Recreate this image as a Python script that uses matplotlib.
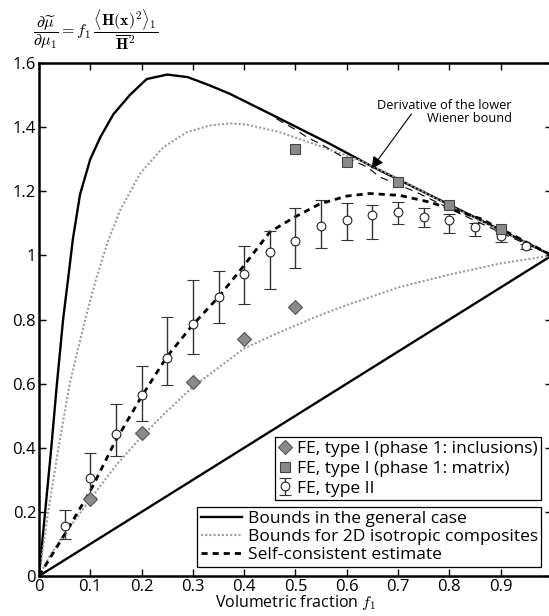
import matplotlib
matplotlib.use('Agg')
import matplotlib.pyplot as plt
from matplotlib.ticker import FuncFormatter

plt.rcParams['font.family'] = ['Open Sans', 'DejaVu Sans']
plt.rcParams['mathtext.fontset'] = 'cm'

# ---- data ----
# general-case bounds
f_gen_up = [0, 0.012, 0.024, 0.035, 0.047, 0.057, 0.066, 0.08, 0.10, 0.12, 0.145,
            0.177, 0.21, 0.25, 0.29, 0.333, 0.372, 0.47, 0.567, 0.652, 1.0]
v_gen_up = [0, 0.2, 0.4, 0.6, 0.8, 0.93, 1.05, 1.19, 1.30, 1.37, 1.44,
            1.50, 1.55, 1.564, 1.556, 1.53, 1.504, 1.426, 1.348, 1.275, 1.0]
f_gen_lo = [0, 1.0]
v_gen_lo = [0, 1.0]

# 2D isotropic bounds
f_iso_up = [0, 0.018, 0.038, 0.06, 0.09, 0.112, 0.135, 0.158, 0.197, 0.242, 0.288,
            0.333, 0.372, 0.405, 0.47, 0.535, 0.626, 0.7, 0.8, 0.9, 1.0]
v_iso_up = [0, 0.2, 0.4, 0.6, 0.8, 0.93, 1.047, 1.14, 1.255, 1.337, 1.384,
            1.405, 1.412, 1.408, 1.384, 1.348, 1.296, 1.24, 1.155, 1.078, 1.0]
f_iso_lo = [0, 0.02, 0.05, 0.1, 0.15, 0.2, 0.25, 0.3, 0.35, 0.4, 0.47, 0.55, 0.6,
            0.7, 0.8, 0.9, 1.0]
v_iso_lo = [0, 0.06, 0.13, 0.24, 0.345, 0.435, 0.515, 0.59, 0.65, 0.71, 0.761, 0.815,
            0.845, 0.9, 0.94, 0.975, 1.0]

# self-consistent estimate
f_sc = [0, 0.05, 0.1, 0.148, 0.2, 0.249, 0.299, 0.35, 0.398, 0.45, 0.499, 0.548,
        0.6, 0.645, 0.704, 0.762, 0.80, 0.86, 0.918, 1.0]
v_sc = [0, 0.13, 0.265, 0.418, 0.56, 0.683, 0.782, 0.87, 0.965, 1.073, 1.12, 1.161,
        1.185, 1.193, 1.187, 1.166, 1.146, 1.115, 1.068, 1.0]

# derivative of the lower Wiener bound
f_wl = [0.463, 0.496, 0.522, 0.554, 0.587, 0.606, 0.639, 0.665, 0.736, 0.821, 0.918, 1.0]
v_wl = [1.426, 1.396, 1.369, 1.343, 1.312, 1.30, 1.276, 1.244, 1.197, 1.13, 1.058, 1.0]

# FE results
f_inc = [0.1, 0.2, 0.3, 0.4, 0.5]
v_inc = [0.24, 0.445, 0.606, 0.738, 0.838]

f_mat = [0.5, 0.6, 0.7, 0.8, 0.9]
v_mat = [1.332, 1.291, 1.228, 1.156, 1.083]

f_t2 = [0.05, 0.1, 0.15, 0.2, 0.25, 0.3, 0.35, 0.4, 0.45, 0.5, 0.55, 0.6,
        0.65, 0.7, 0.75, 0.8, 0.85, 0.9, 0.95]
v_t2 = [0.155, 0.305, 0.442, 0.566, 0.681, 0.785, 0.87, 0.943, 1.01, 1.045, 1.093, 1.111,
        1.125, 1.135, 1.121, 1.109, 1.088, 1.062, 1.029]
lo_t2 = [0.115, 0.245, 0.375, 0.484, 0.595, 0.694, 0.79, 0.849, 0.895, 0.962, 1.024, 1.047,
         1.052, 1.097, 1.09, 1.071, 1.062, 1.041, 1.021]
hi_t2 = [0.205, 0.385, 0.535, 0.654, 0.808, 0.922, 0.951, 1.03, 1.075, 1.149, 1.174, 1.163,
         1.158, 1.166, 1.149, 1.13, 1.10, 1.076, 1.036]

x_ticks = [0, 0.1, 0.2, 0.3, 0.4, 0.5, 0.6, 0.7, 0.8, 0.9, 1.0]
x_tick_labels = ['0', '0.1', '0.2', '0.3', '0.4', '0.5', '0.6', '0.7', '0.8', '0.9', '']
y_ticks = [0, 0.2, 0.4, 0.6, 0.8, 1.0, 1.2, 1.4, 1.6]

# ---- figure ----
fig = plt.figure(figsize=(5.49, 6.16), dpi=100)
ax = fig.add_axes([0.0710, 0.0649, 0.9344, 0.8328])

gray_dot = '#9c9c9c'
l_gen, = ax.plot(f_gen_up, v_gen_up, color='k', lw=1.7)
ax.plot(f_gen_lo, v_gen_lo, color='k', lw=1.7)
l_iso, = ax.plot(f_iso_up, v_iso_up, color=gray_dot, lw=1.5, ls=(0, (1, 1)))
ax.plot(f_iso_lo, v_iso_lo, color=gray_dot, lw=1.5, ls=(0, (1, 1)))
ax.plot(f_wl, v_wl, color='k', lw=0.8, ls=(0, (7, 5)))
l_sc, = ax.plot(f_sc, v_sc, color='k', lw=2.0, ls=(0, (2.2, 1.8)))

yerr = [[v - l for v, l in zip(v_t2, lo_t2)], [h - v for v, h in zip(v_t2, hi_t2)]]
eb = ax.errorbar(f_t2, v_t2, yerr=yerr, fmt='o', mfc='white', mec='#222222',
                 mew=0.8, ms=6.3, ecolor='#333333', elinewidth=1.0, capsize=4.5,
                 capthick=1.0, zorder=4)
m_inc, = ax.plot(f_inc, v_inc, 'D', ms=6.8, mfc='#8a8a8a', mec='#555555', mew=0.8,
                 ls='none', zorder=5)
m_mat, = ax.plot(f_mat, v_mat, 's', ms=6.5, mfc='#8a8a8a', mec='#444444', mew=0.8,
                 ls='none', zorder=5)

ax.set_xlim(0, 1)
ax.set_ylim(0, 1.6)
ax.set_xticks(x_ticks)
ax.set_xticklabels(x_tick_labels)
ax.set_yticks(y_ticks)
ax.yaxis.set_major_formatter(FuncFormatter(lambda v, p: '%g' % v))
ax.tick_params(direction='in', length=5, width=1.0, top=True, right=True,
               labelsize=12, pad=2)
for s in ax.spines.values():
    s.set_linewidth(1.8)

ax.set_xlabel('Volumetric fraction $f_1$', fontsize=11.5, labelpad=-1)

fig.text(0.06, 0.950,
         r'$\dfrac{\partial\widetilde{\mu}}{\partial\mu_1} = f_1\,'
         r'\dfrac{\langle\mathbf{H}(\mathbf{x})^2\rangle_1}{\overline{\mathbf{H}}^2}$',
         fontsize=11.5, ha='left', va='center')

ax.text(0.922, 1.446, 'Derivative of the lower\nWiener bound', ha='right',
        va='center', fontsize=9.2, linespacing=1.0)
ax.annotate('', xy=(0.648, 1.27), xytext=(0.726, 1.441),
            arrowprops=dict(arrowstyle='-|>', color='k', lw=0.8,
                            mutation_scale=18, shrinkA=0, shrinkB=0))

leg1 = ax.legend([m_inc, m_mat, eb],
                 ['FE, type I (phase 1: inclusions)', 'FE, type I (phase 1: matrix)',
                  'FE, type II'],
                 loc='upper right', bbox_to_anchor=(0.979, 0.271), fontsize=12.5,
                 frameon=True, fancybox=False, edgecolor='k', framealpha=1,
                 borderpad=0.2, labelspacing=0.22, handletextpad=0.3,
                 handlelength=0.8, borderaxespad=0)
leg1.get_frame().set_linewidth(0.9)
ax.add_artist(leg1)
leg2 = ax.legend([l_gen, l_iso, l_sc],
                 ['Bounds in the general case', 'Bounds for 2D isotropic composites',
                  'Self-consistent estimate'],
                 loc='upper right', bbox_to_anchor=(0.979, 0.1345), fontsize=12.5,
                 frameon=True, fancybox=False, edgecolor='k', framealpha=1,
                 borderpad=0.2, labelspacing=0.12, handletextpad=0.3,
                 handlelength=2.4, borderaxespad=0)
leg2.get_frame().set_linewidth(0.9)

fig.savefig('out.png', dpi=100)
